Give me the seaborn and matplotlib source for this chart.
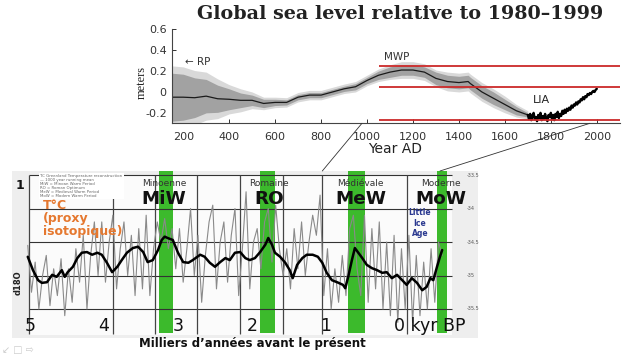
import matplotlib
matplotlib.use("Agg")
import matplotlib.pyplot as plt
from matplotlib.patches import ConnectionPatch
import seaborn as sns

sns.set_theme(style="white")
plt.rcParams["font.family"] = ["DejaVu Sans"]

# ---------------- top panel: global sea level (m) ----------------
sea_years = [150, 200, 250, 300, 350, 400, 450, 500, 550, 600,
             650, 700, 750, 800, 850, 900, 950, 1000, 1050, 1100,
             1150, 1200, 1250, 1300, 1350, 1400, 1440, 1450, 1500, 1550,
             1600, 1650, 1700]
sea_level = [-0.05, -0.05, -0.055, -0.04, -0.065, -0.07, -0.08, -0.08, -0.11, -0.10,
             -0.10, -0.05, -0.03, -0.03, 0.00, 0.03, 0.05, 0.11, 0.16, 0.19,
             0.21, 0.21, 0.19, 0.13, 0.10, 0.09, 0.10, 0.08, 0.00, -0.06,
             -0.12, -0.18, -0.22]
band_dark = [0.23, 0.22, 0.19, 0.16, 0.13, 0.10, 0.07, 0.05, 0.04, 0.03,
             0.025, 0.025, 0.025, 0.025, 0.025, 0.025, 0.03, 0.03, 0.04, 0.05,
             0.05, 0.05, 0.05, 0.06, 0.06, 0.06, 0.06, 0.06, 0.06, 0.06,
             0.05, 0.04, 0.02]
band_light = [0.30, 0.29, 0.26, 0.23, 0.19, 0.14, 0.11, 0.08, 0.06, 0.05,
              0.045, 0.045, 0.045, 0.045, 0.045, 0.045, 0.05, 0.05, 0.06, 0.07,
              0.08, 0.08, 0.08, 0.08, 0.09, 0.09, 0.09, 0.09, 0.09, 0.09,
              0.08, 0.06, 0.04]
inst_years = list(range(1700, 2001, 5))
inst_level = [-0.22, -0.26, -0.21, -0.27, -0.23, -0.20, -0.26, -0.24, -0.28, -0.22,
              -0.25, -0.20, -0.27, -0.23, -0.26, -0.21, -0.25, -0.28, -0.22, -0.24,
              -0.20, -0.26, -0.22, -0.27, -0.21, -0.24, -0.19, -0.25, -0.21, -0.23,
              -0.18,
              -0.21, -0.17, -0.20, -0.16, -0.18, -0.15, -0.17, -0.13, -0.15, -0.12,
              -0.13, -0.10, -0.12, -0.09, -0.10, -0.07, -0.08, -0.05, -0.07, -0.04,
              -0.05, -0.02, -0.03, -0.01, -0.02, 0.00, 0.01, 0.00, 0.02, 0.03]
red_levels = [0.25, 0.05, -0.27]
red_from = 1050
sea_xticks = [200, 400, 600, 800, 1000, 1200, 1400, 1600, 1800, 2000]
sea_yticks = [0.6, 0.4, 0.2, 0, -0.2]
sea_ylabels = ["0.6", "0.4", "0.2", "0", "-0.2"]

# ---------------- bottom panel: d18O proxy, kyr BP ----------------
black_kyr = [5.03, 4.96, 4.89, 4.84, 4.77, 4.70, 4.64, 4.57, 4.53, 4.49,
             4.42, 4.36, 4.30, 4.23, 4.16, 4.09, 4.03, 3.96, 3.89, 3.82,
             3.76, 3.69, 3.61, 3.54, 3.47, 3.41, 3.34, 3.27, 3.22, 3.18,
             3.14, 3.07, 3.00, 2.93, 2.86, 2.80, 2.70, 2.64, 2.57, 2.50,
             2.43, 2.36, 2.30, 2.23, 2.16, 2.09, 2.03, 1.96, 1.89, 1.82,
             1.78, 1.73, 1.69, 1.62, 1.55, 1.49, 1.45, 1.39, 1.32, 1.26,
             1.18, 1.11, 1.05, 0.99, 0.92, 0.85, 0.77, 0.74, 0.70, 0.65,
             0.61, 0.57, 0.51, 0.45, 0.38, 0.31, 0.24, 0.18, 0.11, 0.04,
             -0.03, -0.09, -0.16, -0.23, -0.30, -0.36, -0.41, -0.45, -0.50, -0.54, -0.57]
black_d18o = [-34.72, -34.92, -35.07, -35.11, -35.10, -34.99, -35.02, -34.92, -35.02, -34.95,
              -34.87, -34.74, -34.66, -34.65, -34.69, -34.66, -34.69, -34.81, -34.95, -34.87,
              -34.77, -34.66, -34.59, -34.57, -34.65, -34.80, -34.77, -34.62, -34.47, -34.42,
              -34.44, -34.47, -34.66, -34.80, -34.81, -34.77, -34.69, -34.72, -34.81, -34.87,
              -34.80, -34.74, -34.77, -34.66, -34.65, -34.74, -34.77, -34.74, -34.65, -34.54,
              -34.44, -34.54, -34.66, -34.72, -34.81, -34.92, -35.04, -34.84, -34.74, -34.69,
              -34.69, -34.72, -34.81, -34.96, -35.07, -35.10, -35.14, -35.19, -35.02, -34.77,
              -34.59, -34.65, -34.74, -34.84, -34.89, -34.92, -34.96, -34.95, -35.04, -34.99,
              -35.07, -35.14, -35.04, -35.11, -35.22, -35.17, -35.04, -35.07, -34.87, -34.72, -34.62]
gray_kyr = [5.03, 4.98, 4.93, 4.88, 4.83, 4.78, 4.73, 4.68, 4.63, 4.58,
            4.53, 4.48, 4.43, 4.38, 4.33, 4.28, 4.23, 4.18, 4.13, 4.08,
            4.03, 3.98, 3.93, 3.88, 3.83, 3.78, 3.73, 3.68, 3.63, 3.58,
            3.53, 3.48, 3.43, 3.38, 3.33, 3.28, 3.23, 3.18, 3.13, 3.08,
            3.03, 2.98, 2.93, 2.88, 2.83, 2.78, 2.73, 2.68, 2.63, 2.58,
            2.53, 2.48, 2.43, 2.38, 2.33, 2.28, 2.23, 2.18, 2.13, 2.08,
            2.03, 1.98, 1.93, 1.88, 1.83, 1.78, 1.73, 1.68, 1.63, 1.58,
            1.53, 1.48, 1.43, 1.38, 1.33, 1.28, 1.23, 1.18, 1.13, 1.08,
            1.03, 0.98, 0.93, 0.88, 0.83, 0.78, 0.73, 0.68, 0.63, 0.58,
            0.53, 0.48, 0.43, 0.38, 0.33, 0.28, 0.23, 0.18, 0.13, 0.08,
            0.03, -0.02, -0.07, -0.12, -0.17, -0.22, -0.27, -0.32, -0.37, -0.42,
            -0.47, -0.52, -0.57]
gray_d18o = [-34.55, -35.25, -34.8, -35.5, -35.0, -34.7, -35.45, -34.9, -35.3, -34.75,
             -35.6, -34.9, -35.4, -34.6, -35.1, -34.4, -35.5, -34.7, -34.2, -35.0,
             -34.2, -35.1, -34.5, -34.1, -35.2, -34.6, -34.2, -35.0, -34.4, -35.3,
             -34.3, -35.2, -34.1, -35.3, -34.6, -34.2, -34.5, -34.15, -34.6, -34.3,
             -34.9, -34.3, -35.1, -34.6, -34.0, -35.0, -34.4, -35.4, -34.7, -34.2,
             -33.95, -35.2, -34.5, -34.2, -35.1, -34.4, -34.0, -35.3, -34.6, -33.75,
             -35.2, -34.5, -34.3, -34.9, -34.2, -34.0, -34.8, -33.95, -34.6, -35.0,
             -34.6, -35.2, -34.3, -34.9, -34.2, -35.0, -34.5, -34.1, -34.4, -33.8,
             -35.3, -34.6, -35.5, -34.9, -35.4, -34.7, -35.3, -34.3, -34.1, -34.9,
             -35.3, -34.1, -35.4, -34.3, -35.2, -34.2, -35.5, -34.5, -35.6, -34.4,
             -35.7, -34.6, -35.5, -34.4, -35.7, -34.7, -35.6, -34.8, -35.5, -34.6,
             -35.4, -34.5, -34.7]
warm_start = [3.26, 1.89, 0.70, -0.50]
warm_end = [3.07, 1.69, 0.47, -0.63]
warm_names = ["Minoenne", "Romaine", "Médiévale", "Moderne"]
warm_codes = ["MiW", "RO", "MeW", "MoW"]
warm_label_x = [3.19, 1.77, 0.53, -0.55]
d18_ticks = [-33.5, -34.0, -34.5, -35.0, -35.5]
d18_labels = ["-33.5", "-34", "-34.5", "-35", "-35.5"]
grid_kyr = [5.01, 3.88, 3.31, 2.74, 2.16, 1.58, 1.05, -0.09]
kyr_ticks = [5, 4, 3, 2, 1, 0]
kyr_labels = ["5", "4", "3", "2", "1", "0 kyr BP"]

W, H = 628, 356


def box(x0, y0, x1, y1):
    return [x0 / W, 1 - y1 / H, (x1 - x0) / W, (y1 - y0) / H]


fig = plt.figure(figsize=(W / 100, H / 100), dpi=100)
fig.patch.set_facecolor("white")

# ---- top chart ----
ax1 = fig.add_axes(box(172.3, 29.3, 620, 123.3))
ax1.set_facecolor("white")
ax1.fill_between(sea_years, [m - d for m, d in zip(sea_level, band_light)],
                 [m + d for m, d in zip(sea_level, band_light)], color="#d9d9d9", lw=0)
ax1.fill_between(sea_years, [m - d for m, d in zip(sea_level, band_dark)],
                 [m + d for m, d in zip(sea_level, band_dark)], color="#a2a2a2", lw=0)
sns.lineplot(x=sea_years, y=sea_level, ax=ax1, color="#1a1a1a", lw=0.9)
sns.lineplot(x=inst_years, y=inst_level, ax=ax1, color="black", lw=1.7)
sea_xmax = 2101
ax1.hlines(red_levels, red_from, sea_xmax, color="#cc2a2a", lw=1.3, zorder=5)
ax1.set_xlim(152.6, sea_xmax)
ax1.set_ylim(-0.3, 0.6)
ax1.set_xticks(sea_xticks)
ax1.set_yticks(sea_yticks)
ax1.set_yticklabels(sea_ylabels)
ax1.tick_params(axis="both", direction="in", length=3, width=0.7, colors="#333333",
                labelsize=8, left=True, bottom=True)
ax1.tick_params(axis="x", pad=6)
ax1.tick_params(axis="y", pad=4)
for s in ["top", "right"]:
    ax1.spines[s].set_visible(False)
for s in ["left", "bottom"]:
    ax1.spines[s].set_color("#444444")
    ax1.spines[s].set_linewidth(0.8)
ax1.set_xlabel("Year AD", fontsize=10, color="#222222")
ax1.xaxis.set_label_coords(0.498, -0.2)
ax1.set_ylabel("meters", fontsize=9, family="Liberation Serif", color="#222222")
ax1.yaxis.set_label_coords(-0.056, 0.44)
ax1.text(207, 0.287, "\u2190 RP", fontsize=7.5, color="#333333", va="center")
ax1.text(1130, 0.336, "MWP", fontsize=7.5, color="#333333", ha="center", va="center")
ax1.text(1760, -0.075, "LIA", fontsize=8, color="#222222", ha="center", va="center")

fig.text(400 / W, 1 - 14 / H, "Global sea level relative to 1980\u20131999",
         ha="center", va="center", fontsize=13.8, fontweight="bold",
         family="DejaVu Serif", color="#222222")

# ---- bottom chart ----
ax2 = fig.add_axes(box(12, 171, 478, 338))
ax2.set_facecolor("#eeeeee")
ax2.set_xlim(5.243, -1.054)
ax2.set_ylim(-35.933, -33.44)
ax2.axvspan(5.01, -0.70, ymin=0.018, ymax=0.976, color="#fbfbfb", lw=0, zorder=0)
for s0, s1 in zip(warm_start, warm_end):
    ax2.axvspan(s0, s1, ymin=0.03, ymax=1, color="#3cba2c", lw=0, zorder=1)
ax2.hlines(d18_ticks, 5.01, -0.70, color="#333333", lw=0.8, zorder=2)
ax2.vlines(grid_kyr, -35.88, -33.5, color="#444444", lw=0.9, zorder=2)
sns.lineplot(x=gray_kyr, y=gray_d18o, ax=ax2, color="#8a8a8a", lw=0.8,
             sort=False, zorder=3)
sns.lineplot(x=black_kyr, y=black_d18o, ax=ax2, color="black", lw=1.8,
             sort=False, zorder=4)
ax2.set_xticks([])
ax2.set_yticks([])
ax2.set_xlabel("")
ax2.set_ylabel("")
for s in ax2.spines.values():
    s.set_visible(False)

for x, name, code in zip(warm_label_x, warm_names, warm_codes):
    ax2.text(x, -33.63, name, fontsize=6.5, color="#333333", ha="center", va="center", zorder=6)
    ax2.text(x, -33.86, code, fontsize=13.2, fontweight="bold", color="#111111",
             ha="center", va="center", zorder=6)

for y, lab in zip(d18_ticks, d18_labels):
    ax2.text(-0.90, y, lab, fontsize=3.5, color="#555555", ha="left", va="center")

for i, (k, lab) in enumerate(zip(kyr_ticks, kyr_labels)):
    last = i == len(kyr_ticks) - 1
    ax2.annotate(lab, (k, -35.754), xytext=(-4 if last else 0, 0),
                 textcoords="offset points", ha="left" if last else "center",
                 va="center", fontsize=12.5, color="#111111", zorder=6)

ax2.text(4.86, -33.49,
         "TC Greenland Temperature reconstruction\n\u2014 1000 year running mean\n"
         "MiW = Minoan Warm Period\nRO = Roman Optimum\n"
         "MeW = Medieval Warm Period\nMoW = Modern Warm Period",
         fontsize=2.8, color="#666666", ha="left", va="top", zorder=6,
         linespacing=0.95,
         bbox=dict(facecolor="white", edgecolor="none", pad=0.8))
ax2.text(4.82, -33.86, "T\u00b0C\n(proxy\nisotopique)", fontsize=9, fontweight="bold",
         color="#e5782f", ha="left", va="top", linespacing=1.0, zorder=6)
ax2.text(5.16, -35.11, "d18O", fontsize=6, fontweight="bold", color="#222222",
         rotation=90, ha="center", va="center")
ax2.text(5.13, -33.66, "1", fontsize=9, fontweight="bold", color="#111111",
         ha="center", va="center")
ax2.text(-0.27, -34.22, "Little\nIce\nAge", fontsize=5.5, fontweight="bold",
         color="#2b3990", ha="center", va="center", linespacing=1.2, zorder=6)

fig.text(252 / W, 1 - 343 / H, "Milliers d\u2019ann\u00e9es avant le pr\u00e9sent",
         ha="center", va="center", fontsize=8.5, fontweight="bold", color="#111111")
fig.text(2 / W, 1 - 350 / H, "\u2199 \u25a1 \u21e8", fontsize=7, color="#cccccc",
         ha="left", va="center")

# connector lines from the sea level chart to the proxy chart
for xa, xb in [(978, 1.05), (1970, -0.54)]:
    con = ConnectionPatch(xyA=(xa, -0.3), coordsA=ax1.transData,
                          xyB=(xb, -33.44), coordsB=ax2.transData,
                          color="#333333", lw=0.6)
    fig.add_artist(con)

fig.savefig("out.png", dpi=100)
